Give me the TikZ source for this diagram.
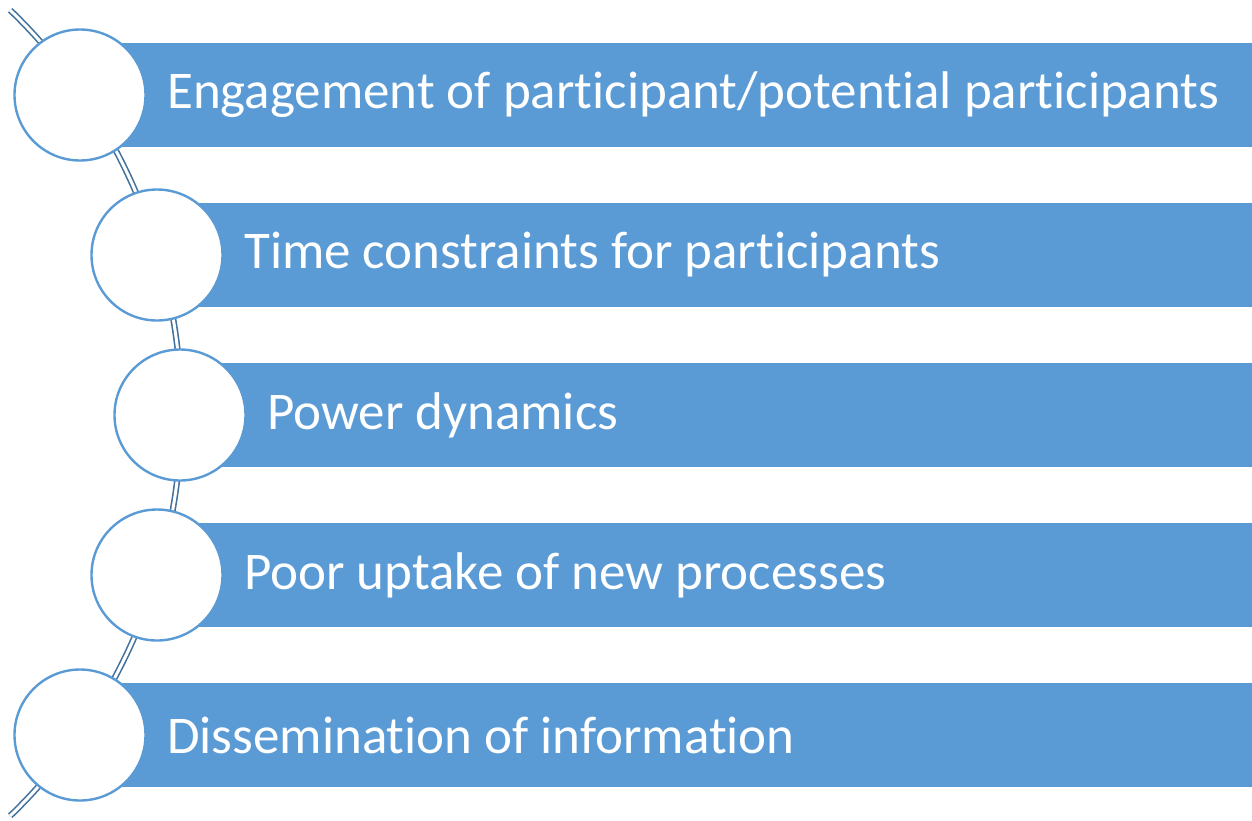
\documentclass[tikz,border=0pt]{standalone}
\usepackage{fontspec}
\setmainfont[Ligatures={NoCommon}]{Carlito}
\definecolor{barblue}{HTML}{5B9BD5}
\definecolor{linkblue}{HTML}{41719C}
\begin{document}
\begin{tikzpicture}[x=1pt,y=-1pt,
  ring/.style={circle,draw=barblue,line width=2.4pt,fill=white,minimum size=131pt,inner sep=0pt},
  label/.style={text=white,font=\fontsize{53}{60}\selectfont,anchor=west,inner sep=0pt},
  link/.style={draw=linkblue,double=white,line width=1.6pt,double distance=3pt}]
\useasboundingbox (0,0) rectangle (1252,820);
\draw[link] (-378.8,413) ++(-46:560) coordinate (top) arc[start angle=-46,end angle=46,radius=560] coordinate (bot);
\foreach \i/\cx/\cy/\t in {1/80/95/{Engagement of participant/potential participants},
                          2/157/255/{Time constraints for participants},
                          3/180/415/{Power dynamics},
                          4/157/575/{Poor uptake of new processes},
                          5/80/735/{Dissemination of information}}{
  \fill[barblue] (\cx,\cy-52) rectangle (1252,\cy+52);
  \node[ring] (c\i) at (\cx,\cy) {};
  \node[label] (t\i) at (\cx+87,\cy) {\t};
}
\end{tikzpicture}
\end{document}
